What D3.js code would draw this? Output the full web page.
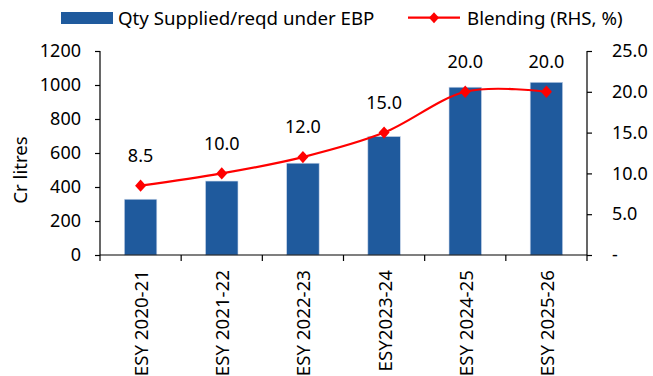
<!DOCTYPE html>
<html>
<head>
<meta charset="utf-8">
<script src="https://cdn.jsdelivr.net/npm/d3@7"></script>
<style>
  html, body { margin: 0; padding: 0; background: #fff; }
  svg { display: block; }
  text { font-family: "Noto Sans", "Open Sans", sans-serif; fill: #000; }
</style>
</head>
<body>
<svg id="chart" width="653" height="376"></svg>
<script>
// Ethanol blending programme: supply vs blending rate
const categories = ["ESY 2020-21", "ESY 2021-22", "ESY 2022-23", "ESY2023-24", "ESY 2024-25", "ESY 2025-26"];
const qtySupplied = [328, 435, 540, 697, 987, 1016];   // Cr litres
const blendingPct = [8.5, 10.0, 12.0, 15.0, 20.0, 20.0]; // %
const leftTicks = [0, 200, 400, 600, 800, 1000, 1200];
const rightTicks = [0, 5, 10, 15, 20, 25];
const seriesNames = ["Qty Supplied/reqd under EBP", "Blending (RHS, %)"];
const yTitle = "Cr litres";

const barColor = "#1f5a9d";
const lineColor = "#ff0000";
const fontSize = 18;
const labelSize = 18.7;

const svg = d3.select("#chart");
const plot = { left: 100, right: 587, top: 51, bottom: 255 };

const x = d3.scaleBand()
  .domain(categories)
  .range([plot.left, plot.right])
  .paddingInner(0.6)
  .paddingOuter(0.3);

const yL = d3.scaleLinear().domain([0, 1200]).range([plot.bottom, plot.top]);
const yR = d3.scaleLinear().domain([0, 25]).range([plot.bottom, plot.top]);

// Bars
svg.append("g")
  .selectAll("rect")
  .data(qtySupplied)
  .join("rect")
  .attr("x", (d, i) => x(categories[i]))
  .attr("width", x.bandwidth())
  .attr("y", d => yL(d))
  .attr("height", d => yL(0) - yL(d))
  .attr("fill", barColor)
  .attr("stroke", "#c9d6ea")
  .attr("stroke-width", 0.6);

// Left axis
const leftAxis = d3.axisLeft(yL).tickValues(leftTicks).tickSize(5).tickPadding(14).tickFormat(d3.format("d"));
const gL = svg.append("g").attr("transform", `translate(${plot.left},0)`).call(leftAxis);
gL.select(".domain").attr("d", `M0,${plot.top}V${plot.bottom}`).attr("stroke", "#000").attr("stroke-width", 1.2);
gL.selectAll(".tick line").attr("stroke", "#000").attr("stroke-width", 1.2);
gL.selectAll(".tick text").attr("font-size", fontSize).attr("font-family", "Noto Sans").attr("fill", "#000");

// Right axis
const rightAxis = d3.axisRight(yR).tickValues(rightTicks).tickSize(5).tickPadding(20)
  .tickFormat(d => d === 0 ? "-" : d3.format(".1f")(d));
const gR = svg.append("g").attr("transform", `translate(${plot.right},0)`).call(rightAxis);
gR.select(".domain").attr("d", `M0,${plot.top}V${plot.bottom}`).attr("stroke", "#000").attr("stroke-width", 1.2);
gR.selectAll(".tick line").attr("stroke", "#000").attr("stroke-width", 1.2);
gR.selectAll(".tick text").attr("font-size", fontSize).attr("font-family", "Noto Sans").attr("fill", "#000");

// Category axis: baseline, ticks at band boundaries, rotated labels
const step = x.step();
const x0 = x.range()[0];
const gX = svg.append("g");
gX.append("line")
  .attr("x1", plot.left).attr("x2", plot.right)
  .attr("y1", plot.bottom).attr("y2", plot.bottom)
  .attr("stroke", "#000").attr("stroke-width", 1.2);
gX.selectAll("line.boundary")
  .data(d3.range(categories.length + 1))
  .join("line")
  .attr("class", "boundary")
  .attr("x1", i => x0 + i * step).attr("x2", i => x0 + i * step)
  .attr("y1", plot.bottom).attr("y2", plot.bottom + 6)
  .attr("stroke", "#000").attr("stroke-width", 1.2);
gX.selectAll("text")
  .data(categories)
  .join("text")
  .attr("transform", d => `translate(${x(d) + x.bandwidth() / 2 + 1},${plot.bottom + 15}) rotate(-90)`)
  .attr("text-anchor", "end")
  .attr("dy", "0.35em")
  .attr("font-size", labelSize)
  .text(d => d);

// Blending line (smoothed)
const pts = blendingPct.map((v, i) => [x(categories[i]) + x.bandwidth() / 2, yR(v)]);
const line = d3.line().curve(d3.curveCardinal.tension(0));
svg.append("path")
  .attr("d", line(pts))
  .attr("fill", "none")
  .attr("stroke", lineColor)
  .attr("stroke-width", 2.2);

const diamond = (cx, cy, w, h) => `M${cx},${cy - h}L${cx + w},${cy}L${cx},${cy + h}L${cx - w},${cy}Z`;
svg.append("g")
  .selectAll("path")
  .data(pts)
  .join("path")
  .attr("d", p => diamond(p[0], p[1], 5.5, 6.2))
  .attr("fill", lineColor);

// Value labels above markers
svg.append("g")
  .selectAll("text")
  .data(blendingPct)
  .join("text")
  .attr("x", (d, i) => pts[i][0])
  .attr("y", (d, i) => pts[i][1] - 30)
  .attr("dy", "0.35em")
  .attr("text-anchor", "middle")
  .attr("font-size", fontSize)
  .text(d => d3.format(".1f")(d));

// Y-axis title
svg.append("text")
  .attr("transform", "translate(20,170) rotate(-90)")
  .attr("text-anchor", "middle")
  .attr("dy", "0.35em")
  .attr("font-size", labelSize)
  .text(yTitle);

// Legend
const lg = svg.append("g");
lg.append("rect").attr("x", 61).attr("y", 12).attr("width", 52).attr("height", 12).attr("fill", barColor);
lg.append("text").attr("x", 118).attr("y", 25).attr("font-size", labelSize).text(seriesNames[0]);
lg.append("line").attr("x1", 408).attr("x2", 460).attr("y1", 17.7).attr("y2", 17.7)
  .attr("stroke", lineColor).attr("stroke-width", 2.2);
lg.append("path").attr("d", diamond(434, 17.7, 5, 5.5)).attr("fill", lineColor);
lg.append("text").attr("x", 467).attr("y", 25).attr("font-size", labelSize).text(seriesNames[1]);
</script>
</body>
</html>
